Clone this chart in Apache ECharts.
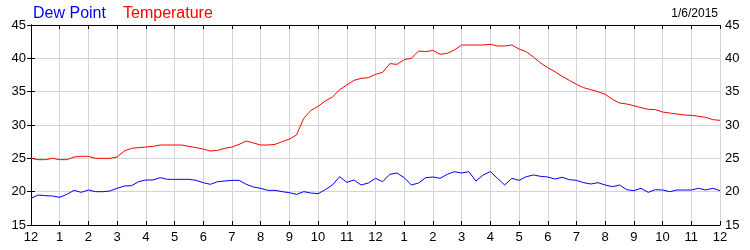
<!DOCTYPE html>
<html><head><meta charset="utf-8">
<script src="https://cdn.jsdelivr.net/npm/echarts@6/dist/echarts.min.js"></script>
<style>html,body{margin:0;padding:0;background:#fff}#c{width:750px;height:250px}</style>
</head><body><div id="c"></div>
<script>
// 15-minute steps from 12 AM to 12 AM (hours 0..24)
const stepHours = 0.25;
const temperature = [
25.0,24.8,24.8,25.0,24.8,24.8,25.2,25.3,25.3,25.0,25.0,25.0,25.2,26.1,26.5,26.6,
26.7,26.8,27.0,27.0,27.0,27.0,26.8,26.6,26.4,26.1,26.2,26.5,26.7,27.1,27.6,27.3,
27.0,27.0,27.1,27.5,27.9,28.5,31.0,32.2,32.8,33.6,34.2,35.3,36.0,36.7,37.0,37.1,
37.6,37.9,39.2,39.1,39.8,40.0,41.1,41.0,41.2,40.6,40.75,41.25,42.0,42.0,42.0,42.0,
42.1,41.85,41.85,42.0,41.4,41.0,40.2,39.3,38.6,38.0,37.3,36.7,36.1,35.6,35.3,35.0,
34.6,33.85,33.3,33.15,32.9,32.6,32.35,32.3,31.95,31.8,31.65,31.5,31.45,31.3,31.15,30.8,30.7
];
const dewPoint = [
19.0,19.5,19.4,19.35,19.15,19.6,20.2,19.9,20.25,20.0,20.0,20.1,20.5,20.85,20.9,21.5,
21.75,21.75,22.1,21.85,21.85,21.85,21.85,21.7,21.35,21.1,21.5,21.6,21.7,21.7,21.1,20.7,
20.5,20.2,20.2,20.0,19.85,19.6,20.0,19.8,19.7,20.3,21.0,22.25,21.4,21.75,21.0,21.3,
22.0,21.5,22.6,22.8,22.1,21.0,21.3,22.1,22.2,22.0,22.6,23.0,22.8,23.0,21.6,22.5,
23.0,22.0,21.0,22.0,21.7,22.25,22.5,22.3,22.2,21.9,22.15,21.8,21.7,21.35,21.15,21.35,
21.0,20.75,21.0,20.3,20.15,20.5,19.9,20.3,20.25,20.0,20.25,20.25,20.25,20.5,20.25,20.5,20.15
];
const yTicks = {min: 15, max: 45, step: 5};
const xTickLabels = ['12','1','2','3','4','5','6','7','8','9','10','11','12','1','2','3','4','5','6','7','8','9','10','11','12'];
const dateLabel = '1/6/2015';
const seriesNames = ['Dew Point', 'Temperature'];

const F = 'Liberation Sans, Arial, sans-serif';
const toPairs = arr => arr.map((v, i) => [i * stepHours, v]);
const xCommon = {
  type: 'value', min: 0, max: 24, interval: 1,
  axisLine: {show: true, lineStyle: {color: '#000', width: 1}},
  axisTick: {show: true, inside: true, length: 4, lineStyle: {color: '#000'}},
  splitLine: {show: true, lineStyle: {color: '#d3d3d3', width: 1}}
};
const yCommon = {
  type: 'value', min: yTicks.min, max: yTicks.max, interval: yTicks.step,
  axisLine: {show: true, lineStyle: {color: '#000', width: 1}},
  axisTick: {show: true, inside: true, length: 4, lineStyle: {color: '#000'}},
  splitLine: {show: true, lineStyle: {color: '#d3d3d3', width: 1}},
  axisLabel: {color: '#000', fontFamily: F, fontSize: 13, margin: 5}
};
const chart = echarts.init(document.getElementById('c'), null, {renderer: 'canvas'});
chart.setOption({
  animation: false,
  backgroundColor: '#fff',
  grid: {left: 31, right: 30, top: 25, bottom: 25, containLabel: false},
  title: [
    {text: seriesNames[0], left: 28, top: 1, textStyle: {color: '#0000ff', fontFamily: F, fontSize: 16, fontWeight: 'normal'}},
    {text: seriesNames[1], left: 118, top: 1, textStyle: {color: '#ff0000', fontFamily: F, fontSize: 16, fontWeight: 'normal'}},
    {text: dateLabel, right: 27, top: 3, textStyle: {color: '#000', fontFamily: F, fontSize: 12, fontWeight: 'normal'}}
  ],
  xAxis: [
    Object.assign({}, xCommon, {position: 'bottom',
      axisLabel: {color: '#000', fontFamily: F, fontSize: 13, margin: 6,
        formatter: v => xTickLabels[Math.round(v)]}}),
    Object.assign({}, xCommon, {position: 'top', axisLabel: {show: false}, splitLine: {show: false}})
  ],
  yAxis: [
    Object.assign({}, yCommon, {position: 'left'}),
    Object.assign({}, yCommon, {position: 'right', splitLine: {show: false}})
  ],
  series: [
    {name: seriesNames[0], type: 'line', data: toPairs(dewPoint), showSymbol: false, symbol: 'none',
     lineStyle: {color: '#0000ff', width: 1}, itemStyle: {color: '#0000ff'}},
    {name: seriesNames[1], type: 'line', data: toPairs(temperature), showSymbol: false, symbol: 'none',
     lineStyle: {color: '#ff0000', width: 1}, itemStyle: {color: '#ff0000'}}
  ]
});
</script></body></html>
